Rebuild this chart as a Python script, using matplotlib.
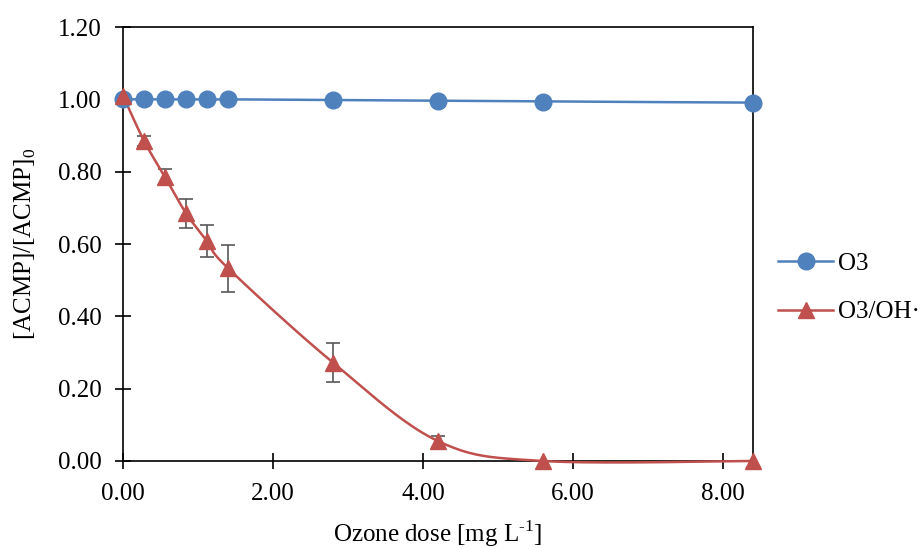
import numpy as np
import matplotlib
matplotlib.use("Agg")
import matplotlib.pyplot as plt

plt.rcParams['font.family'] = ['Liberation Serif', 'DejaVu Serif']
plt.rcParams['mathtext.fontset'] = 'custom'
plt.rcParams['mathtext.rm'] = 'Liberation Serif'

# datos
dosis = [0.0, 0.28, 0.56, 0.84, 1.12, 1.40, 2.80, 4.20, 5.60, 8.40]
o3 = [1.00, 1.00, 1.00, 1.00, 1.00, 1.00, 0.998, 0.996, 0.994, 0.991]
o3_oh = [1.01, 0.885, 0.785, 0.685, 0.608, 0.533, 0.272, 0.055, 0.0, 0.0]
o3_oh_err = [0.0, 0.015, 0.022, 0.040, 0.045, 0.065, 0.053, 0.015, 0.0, 0.0]
etiquetas = ["O3", "O3/OH·"]

azul = '#4F81BD'
rojo = '#C0504D'


def suavizar(x, y, n=40):
    # curva suavizada tipo Excel (Bezier con tangentes Catmull-Rom)
    x = np.asarray(x, float)
    y = np.asarray(y, float)
    px, py = [], []
    for i in range(len(x) - 1):
        i0 = max(i - 1, 0)
        i3 = min(i + 2, len(x) - 1)
        b1x = x[i] + (x[i + 1] - x[i0]) / 6
        b1y = y[i] + (y[i + 1] - y[i0]) / 6
        b2x = x[i + 1] - (x[i3] - x[i]) / 6
        b2y = y[i + 1] - (y[i3] - y[i]) / 6
        t = np.linspace(0, 1, n)
        px.extend((1 - t) ** 3 * x[i] + 3 * (1 - t) ** 2 * t * b1x + 3 * (1 - t) * t ** 2 * b2x + t ** 3 * x[i + 1])
        py.extend((1 - t) ** 3 * y[i] + 3 * (1 - t) ** 2 * t * b1y + 3 * (1 - t) * t ** 2 * b2y + t ** 3 * y[i + 1])
    return px, py


fig = plt.figure(figsize=(9.21, 5.49), dpi=100)
ax = fig.add_axes([0.1336, 0.1603, 0.684, 0.7905])

# O3
sx, sy = suavizar(dosis, o3)
ax.plot(sx, sy, color=azul, lw=1.8, zorder=3, clip_on=False)
ax.plot(dosis, o3, 'o', color=azul, ms=12, zorder=4, clip_on=False)

# O3/OH·
ax.errorbar(dosis[1:8], o3_oh[1:8], yerr=o3_oh_err[1:8], fmt='none', ecolor='#595959',
            elinewidth=1.2, capsize=5, capthick=1.2, zorder=2)
sx, sy = suavizar(dosis, o3_oh)
ax.plot(sx, sy, color=rojo, lw=1.8, zorder=3, clip_on=False)
ax.plot(dosis, o3_oh, '^', color=rojo, ms=12, zorder=5, clip_on=False)

ax.set_xlim(0, 8.4)
ax.set_ylim(0, 1.2)
ax.set_xticks([0, 2, 4, 6, 8])
ax.set_yticks(np.arange(0, 1.21, 0.2))
ax.xaxis.set_major_formatter(matplotlib.ticker.FormatStrFormatter('%.2f'))
ax.yaxis.set_major_formatter(matplotlib.ticker.FormatStrFormatter('%.2f'))
ax.tick_params(direction='inout', length=11, width=1.2, labelsize=18, pad=10)
for s in ax.spines.values():
    s.set_linewidth(1.2)

ax.set_xlabel(r"Ozone dose [mg L$^{\text{-1}}$]", fontsize=18, labelpad=10)
ax.set_ylabel("[ACMP]/[ACMP]$_0$", fontsize=18, labelpad=14)

# leyenda a la derecha
h1, = ax.plot([], [], '-o', color=azul, ms=12, lw=1.8)
h2, = ax.plot([], [], '-^', color=rojo, ms=12, lw=1.8)
fig.legend([h1, h2], etiquetas, loc='center left', bbox_to_anchor=(0.845, 0.476),
           frameon=False, fontsize=18, handlelength=2.2, handletextpad=0.2,
           labelspacing=1.05, borderaxespad=0, borderpad=0)

fig.savefig("out.png", dpi=100)
